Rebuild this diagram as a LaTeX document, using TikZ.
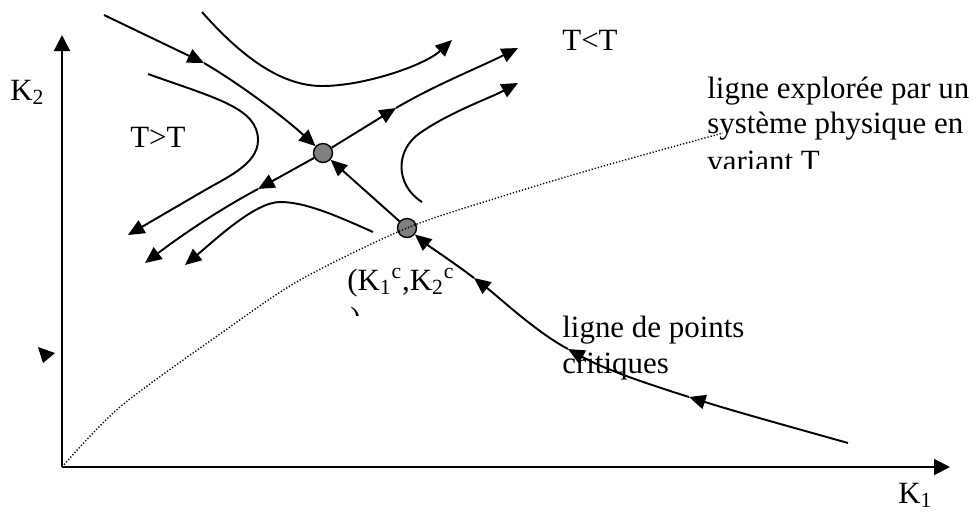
\documentclass[tikz,border=0pt]{standalone}
\usepackage{fontspec}
\setmainfont{Liberation Serif}
\usetikzlibrary{arrows.meta}
\begin{document}
\begin{tikzpicture}[x=0.02cm,y=-0.02cm,
  flow/.style={line width=1.1pt,-{Triangle[length=0.33cm,width=0.29cm]}},
  axis/.style={line width=1.2pt,-{Triangle[length=0.32cm,width=0.32cm]}},
  crit/.style={circle,draw=black,fill=gray,line width=0.8pt,minimum size=0.38cm,inner sep=0pt},
  lbl/.style={anchor=base west,inner sep=0pt,font=\fontsize{17.6}{19.8}\selectfont},
  explored/.style={line width=0.8pt,dash pattern=on 0.7pt off 1.1pt}]
\useasboundingbox (0,0) rectangle (980,512);

% axes
\coordinate (o) at (62,467);
\coordinate (ytip) at (62,35);
\coordinate (xtip) at (950,467);
\draw[axis] (o) -- (ytip);
\draw[axis] (o) -- (xtip);

% critical points
\node[crit] (Us) at (323,153) {};
\node[crit] (Lc) at (407,228) {};

% line of critical points
\coordinate (c0) at (848,443);
\coordinate (c1) at (689,397);
\coordinate (c2) at (568,349);
\coordinate (c3) at (474,278);
\draw[flow] (c0) .. controls (795,428) and (740,413) .. (c1);
\draw[flow] (c1) .. controls (648,384) and (606,370) .. (c2);
\draw[flow] (c2) .. controls (536,332) and (500,298) .. (c3);
\draw[flow] (c3) .. controls (453,262) and (430,247) .. (Lc);
\draw[flow] (Lc) -- (Us);

% incoming separatrix from top-left
\coordinate (s0) at (104,15);
\coordinate (s1) at (204,63);
\draw[flow] (s0) -- (s1);
\draw[flow] (s1) .. controls (240,84) and (285,118) .. (Us);

% outgoing up-right
\coordinate (u1) at (396,108);
\coordinate (u2) at (518,48);
\draw[flow] (Us) -- (u1);
\draw[flow] (u1) .. controls (435,85) and (478,68) .. (u2);

% outgoing down-left
\coordinate (d1) at (258,189);
\coordinate (d2) at (145,263);
\draw[flow] (Us) -- (d1);
\draw[flow] (d1) .. controls (215,212) and (178,238) .. (d2);

% hyperbolic flow lines
\draw[flow] (202,12) .. controls (240,55) and (280,86) .. (322,86)
            .. controls (365,86) and (425,65) .. (452,40);
\draw[flow] (148,74) .. controls (215,98) and (258,108) .. (258,140)
            .. controls (258,165) and (225,178) .. (200,193) -- (128,235);
\draw[flow] (373,232) .. controls (335,215) and (305,202) .. (280,202)
            .. controls (255,202) and (215,240) .. (185,265);
\draw[flow] (422,202) .. controls (395,185) and (395,150) .. (420,133)
            .. controls (450,112) and (490,98) .. (518,83);

% line explored by a physical system
\draw[explored] plot[smooth] coordinates {(62,467) (120,407) (220,334) (300,280) (407,228) (500,197) (600,167) (723,133)};

% stray arrowhead
\fill (38,347) -- (55,353) -- (43,363) -- cycle;

% labels
\node[lbl] (k2) at (10,100) {K\textsubscript{2}};
\node[lbl] (k1) at (898,503) {K\textsubscript{1}};
\node[lbl] (tgt) at (130,147) {T>T};
\node[lbl] (tlt) at (562,50) {T<T};
\node[lbl] (ex1) at (707,98) {ligne explorée par un};
\node[lbl] (ex2) at (707,133) {système physique en};
\begin{scope}
  \clip (700,140) rectangle (980,168);
  \node[lbl] (ex3) at (707,171) {variant T};
\end{scope}
\node[lbl] (kc) at (347,290) {(K\textsubscript{1}\textsuperscript{c},K\textsubscript{2}\textsuperscript{c}};
\begin{scope}
  \clip (340,300) rectangle (380,315);
  \node[lbl] (kcp) at (350,328) {)};
\end{scope}
\node[lbl] (lp1) at (562,337) {ligne de points};
\node[lbl] (lp2) at (562,373) {critiques};
\end{tikzpicture}
\end{document}
